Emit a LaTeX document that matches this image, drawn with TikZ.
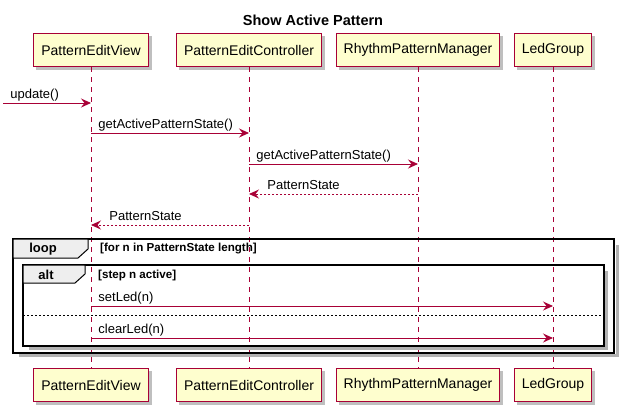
\documentclass[tikz,border=0pt]{standalone}
\usepackage{fontspec}
\setmainfont{Liberation Sans}
\usetikzlibrary{arrows.meta, positioning, backgrounds}
\definecolor{umlred}{HTML}{A80036}
\definecolor{umlfill}{HTML}{FEFECE}
\definecolor{tabfill}{HTML}{EEEEEE}

\begin{document}
\begin{tikzpicture}[
  x=1pt, y=-1pt,
  font=\fontsize{13}{15}\selectfont,
  actor/.style={rectangle, draw=umlred, fill=umlfill, line width=1.1pt, minimum height=33pt, inner xsep=7.5pt, font=\fontsize{14}{16}\selectfont},
  shade/.style={fill=black!25, draw=none},
  lifeline/.style={umlred, line width=0.8pt, dash pattern=on 5pt off 5pt},
  msg/.style={umlred, line width=0.9pt, -{Stealth[length=10pt, width=9pt, inset=3.5pt]}},
  reply/.style={msg, dash pattern=on 2pt off 2pt},
  lbl/.style={text=black, inner sep=0pt, anchor=base west},
  frame/.style={draw=black, line width=1.5pt},
  frameshade/.style={black!30, line width=3pt},
  tab/.style={draw=black, fill=tabfill, line width=1pt},
  tagtext/.style={font=\fontsize{13}{15}\selectfont\bfseries, inner sep=0pt},
  guard/.style={font=\fontsize{11.6}{13}\selectfont\bfseries, inner sep=0pt, anchor=west}
]
\useasboundingbox (0,0) rectangle (624,410);

\node (title) [font=\fontsize{14.5}{16}\selectfont\bfseries] at (313,20) {Show Active Pattern};

% participants, top and bottom
\node (viewT)   [actor] at (91,50)  {PatternEditView};
\node (ctrlT)   [actor] at (249,50) {PatternEditController};
\node (rhythmT) [actor] at (418,50) {RhythmPatternManager};
\node (ledT)    [actor] at (553,50) {LedGroup};
\node (viewB)   [actor] at (91,385)  {PatternEditView};
\node (ctrlB)   [actor] at (249,385) {PatternEditController};
\node (rhythmB) [actor] at (418,385) {RhythmPatternManager};
\node (ledB)    [actor] at (553,385) {LedGroup};

\begin{scope}[on background layer]
\foreach \p in {viewT, ctrlT, rhythmT, ledT, viewB, ctrlB, rhythmB, ledB}
  \fill [shade] ([xshift=3pt, yshift=-3pt]\p.south west) rectangle ([xshift=3pt, yshift=-3pt]\p.north east);
\end{scope}

\draw [lifeline] (viewT)   -- (viewB);
\draw [lifeline] (ctrlT)   -- (ctrlB);
\draw [lifeline] (rhythmT) -- (rhythmB);
\draw [lifeline] (ledT)    -- (ledB);

% loop frame
\draw [frameshade] (617,245) -- (617,355) -- (19,355);
\draw [frame] (13,239) rectangle (614,353);
\draw [tab] (13,239) -- (88,239) -- (88,249) -- (78,258) -- (13,258) -- cycle;
\node (loopTag) [tagtext] at (43,249) {loop};
\node (loopGuard) [guard] at (100,249) {[for n in PatternState length]};

% alt frame
\draw [frameshade] (606,271) -- (606,348) -- (29,348);
\draw [frame] (23,265) rectangle (604,346);
\draw [tab] (23,265) -- (85,265) -- (85,274) -- (75,283) -- (23,283) -- cycle;
\node (altTag) [tagtext] at (46,275) {alt};
\node (altGuard) [guard] at (98,275) {[step n active]};
\draw [black, line width=0.8pt, dash pattern=on 2pt off 2pt] (23,315) -- (604,315);

% messages
\coordinate (entry) at (3,103);
\draw [msg]   (entry) -- (viewT |- entry) node[lbl, pos=0, xshift=7pt, yshift=5pt] {update()};
\draw [msg]   (viewT |- 0,133) -- (ctrlT |- 0,133) node[lbl, pos=0, xshift=7pt, yshift=5pt] {getActivePatternState()};
\draw [msg]   (ctrlT |- 0,164) -- (rhythmT |- 0,164) node[lbl, pos=0, xshift=7pt, yshift=5pt] {getActivePatternState()};
\draw [reply] (rhythmT |- 0,194) -- (ctrlT |- 0,194) node[lbl, pos=1, xshift=18pt, yshift=5pt] {PatternState};
\draw [reply] (ctrlT |- 0,225) -- (viewT |- 0,225) node[lbl, pos=1, xshift=18pt, yshift=5pt] {PatternState};
\draw [msg]   (viewT |- 0,306) -- (ledT |- 0,306) node[lbl, pos=0, xshift=7pt, yshift=5pt] {setLed(n)};
\draw [msg]   (viewT |- 0,338) -- (ledT |- 0,338) node[lbl, pos=0, xshift=7pt, yshift=5pt] {clearLed(n)};
\end{tikzpicture}
\end{document}
